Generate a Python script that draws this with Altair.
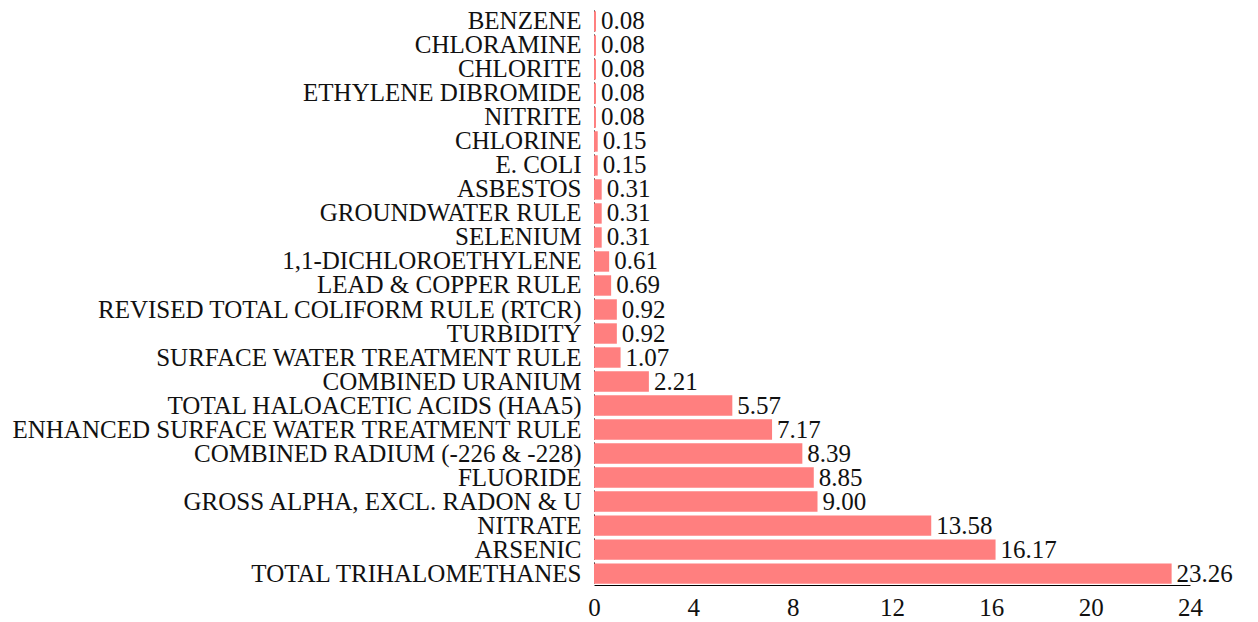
import altair as alt
import pandas as pd

categories = [
    "BENZENE", "CHLORAMINE", "CHLORITE", "ETHYLENE DIBROMIDE", "NITRITE",
    "CHLORINE", "E. COLI", "ASBESTOS", "GROUNDWATER RULE", "SELENIUM",
    "1,1-DICHLOROETHYLENE", "LEAD & COPPER RULE",
    "REVISED TOTAL COLIFORM RULE (RTCR)", "TURBIDITY",
    "SURFACE WATER TREATMENT RULE", "COMBINED URANIUM",
    "TOTAL HALOACETIC ACIDS (HAA5)", "ENHANCED SURFACE WATER TREATMENT RULE",
    "COMBINED RADIUM (-226 & -228)", "FLUORIDE", "GROSS ALPHA, EXCL. RADON & U",
    "NITRATE", "ARSENIC", "TOTAL TRIHALOMETHANES",
]
values = [
    0.08, 0.08, 0.08, 0.08, 0.08,
    0.15, 0.15, 0.31, 0.31, 0.31,
    0.61, 0.69,
    0.92, 0.92,
    1.07, 2.21,
    5.57, 7.17,
    8.39, 8.85, 9.00,
    13.58, 16.17, 23.26,
]
tick_values = [0, 4, 8, 12, 16, 20, 24]

df = pd.DataFrame({"cat": categories, "val": values})
df["label"] = df["val"].map(lambda v: f"{v:.2f}")

FONT = "Liberation Serif"
FS = 25

y = alt.Y("cat:N", sort=categories, title=None,
          scale=alt.Scale(paddingInner=0.15, paddingOuter=0.05),
          axis=alt.Axis(ticks=False, labelFont=FONT, labelFontSize=FS,
                        labelColor="#111", labelPadding=13, domainColor="#000",
                        domainDash=[3, 3], labelLimit=900))
x = alt.X("val:Q", title=None, scale=alt.Scale(domain=[0, 24], nice=False),
          axis=alt.Axis(values=tick_values, ticks=False, grid=False,
                        labelFont=FONT, labelFontSize=FS, labelColor="#111",
                        labelPadding=10, labelFlush=False, domainColor="#000",
                        format="d"))

bars = alt.Chart(df).mark_bar(color="#FF7F7F").encode(x=x, y=y)
text = alt.Chart(df).mark_text(align="left", baseline="middle", dx=5,
                               font=FONT, fontSize=FS, color="#111").encode(
    x="val:Q", y=alt.Y("cat:N", sort=categories), text="label:N")

chart = (bars + text).properties(
    width=596, height=575,
    padding={"left": 2, "top": 0, "right": 5, "bottom": 5},
).configure_view(stroke=None)
chart.save("out.html", embed_options={"renderer": "svg", "actions": False})
